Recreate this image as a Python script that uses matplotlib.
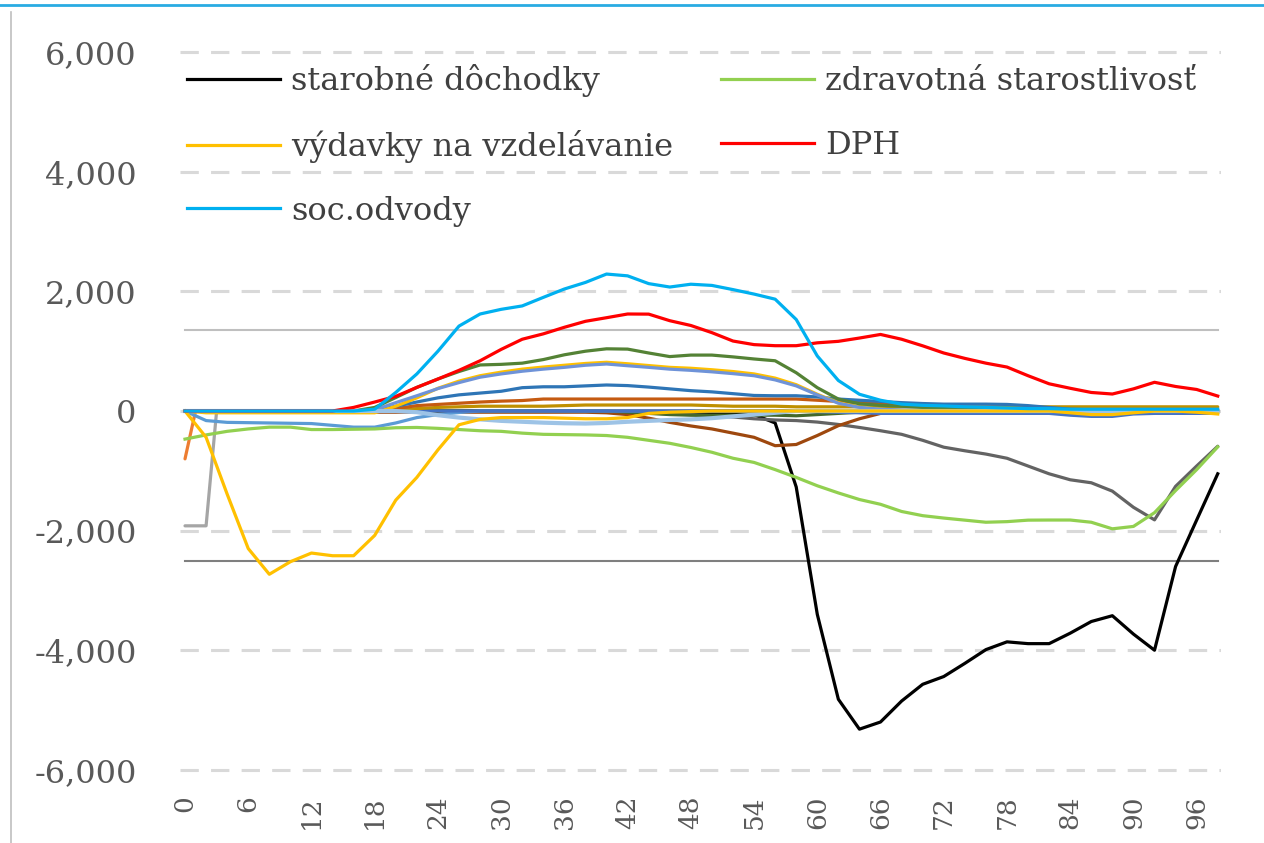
import matplotlib
matplotlib.use("Agg")
import matplotlib.pyplot as plt
from matplotlib.lines import Line2D
from matplotlib.ticker import FuncFormatter

# ---------------- data ----------------
ages = list(range(0, 99, 2))
x_ticks = list(range(0, 97, 6))
y_ticks = [-6000, -4000, -2000, 0, 2000, 4000, 6000]
ref_lines = [1350, -2500]

staro = [0, 0, 0, 0, 0, 0, 0, 0, 0, 0,
         0, 0, 0, 0, 0, 0, 0, 0, 0, 0,
         0, 0, 0, -10, -20, -30, -40, -60, -200, -1270,
         -3400, -4820, -5320, -5200, -4850, -4570, -4440, -4220, -3990, -3860,
         -3890, -3890, -3715, -3520, -3423, -3730, -4000, -2600, -1823, -1050]
zdrav = [-470, -400, -340, -300, -270, -270, -310, -310, -305, -300,
         -280, -275, -290, -310, -330, -340, -370, -390, -395, -400,
         -410, -440, -490, -540, -610, -690, -790, -860, -980, -1110,
         -1250, -1370, -1480, -1560, -1680, -1750, -1790, -1825, -1860, -1850,
         -1825, -1823, -1823, -1860, -1970, -1930, -1700, -1330, -980, -600]
vzdel = [0, -440, -1390, -2300, -2730, -2520, -2375, -2420, -2420, -2080,
         -1490, -1110, -650, -230, -140, -110, -110, -110, -120, -130,
         -130, -110, -40, -20, -10, 0, 0, 0, 0, 0,
         0, 0, 0, 0, 0, 0, 0, 0, 0, 0,
         0, 0, -30, -60, -60, -30, 0, 0, -20, -50]
dph = [0, 0, 0, 0, 0, 0, 0, 0, 60, 150,
       245, 395, 535, 680, 840, 1030, 1200, 1290, 1400, 1500,
       1560, 1622, 1620, 1510, 1430, 1310, 1170, 1110, 1092, 1092,
       1140, 1165, 1220, 1280, 1200, 1090, 970, 880, 800, 735,
       590, 455, 380, 310, 284, 370, 480, 410, 360, 250]
soc = [0, 0, 0, 0, 0, 0, 0, 0, 0, 30,
       310, 620, 1000, 1420, 1622, 1700, 1757, 1900, 2040, 2150,
       2290, 2260, 2130, 2073, 2120, 2100, 2030, 1955, 1870, 1530,
       920, 510, 280, 180, 115, 95, 85, 70, 60, 50,
       40, 40, 30, 30, 30, 30, 30, 30, 30, 30]

# unlabeled components
dkgreen = [0, 0, 0, 0, 0, 0, 0, 0, 0, 60,
           225, 395, 535, 660, 770, 780, 800, 860, 940, 1000,
           1040, 1035, 970, 910, 935, 935, 905, 870, 840, 640,
           390, 200, 120, 95, 80, 60, 40, 30, 20, 20,
           10, 10, 10, 10, 10, 10, 10, 10, 10, 10]
periw = [0, 0, 0, 0, 0, 0, 0, 0, 0, 20,
         140, 255, 375, 475, 565, 620, 665, 700, 730, 765,
         786, 757, 730, 700, 680, 655, 625, 590, 520, 420,
         270, 130, 60, 30, 15, 10, 10, 0, 0, 0,
         0, 0, 0, 0, 0, 0, 0, 0, 0, 0]
gold2 = [0, -30, -30, -30, -30, -30, -30, -30, -30, -30,
         80, 220, 380, 500, 590, 650, 700, 735, 765, 795,
         815, 790, 760, 730, 715, 690, 660, 620, 550, 440,
         280, 140, 70, 30, 10, 0, 0, 0, 0, 0,
         0, 0, 0, 0, 0, 0, 0, 0, 0, 0]
mblue = [0, 0, 0, 0, 0, 0, 0, 0, 0, 0,
         80, 150, 220, 270, 300, 330, 390, 405, 405, 420,
         435, 425, 400, 370, 340, 320, 290, 260, 255, 255,
         235, 200, 180, 160, 140, 125, 115, 115, 115, 110,
         90, 60, 30, 20, 10, 0, 0, 0, 0, 0]
obrown = [0, 0, 0, 0, 0, 0, 0, 0, 0, 0,
          40, 90, 110, 130, 150, 165, 175, 200, 200, 200,
          200, 200, 200, 200, 200, 200, 200, 200, 200, 200,
          180, 160, 140, 120, 100, 70, 40, 20, 0, 0,
          0, 0, 0, 0, 0, 0, 0, 0, 0, 0]
dgold = [0, 0, 0, 0, 0, 0, 0, 0, 0, 0,
         20, 40, 60, 70, 80, 80, 80, 80, 90, 100,
         100, 100, 100, 100, 100, 90, 80, 80, 80, 70,
         70, 70, 70, 70, 70, 70, 70, 70, 70, 70,
         70, 70, 70, 70, 70, 70, 70, 70, 70, 70]
brown = [0, 0, 0, 0, 0, 0, 0, 0, -20, -20,
         -20, -20, -20, -20, -20, -20, -20, -20, -20, -20,
         -30, -60, -120, -190, -250, -300, -370, -440, -580, -560,
         -410, -245, -130, -40, 0, 0, 0, 0, 0, 0,
         0, 0, 0, 0, 0, 0, 0, 0, 0, 0]
dgray = [0, 0, 0, 0, 0, 0, 0, 0, 0, 0,
         0, 0, 0, 0, 0, 0, 0, 0, 0, 0,
         -10, -20, -30, -50, -60, -80, -100, -130, -150, -160,
         -185, -225, -275, -330, -390, -490, -605, -665, -720, -790,
         -920, -1050, -1150, -1200, -1340, -1610, -1820, -1260, -920, -590]
lblue = [0, 0, 0, 0, 0, 0, 0, 0, 0, 0,
         0, -20, -70, -110, -140, -165, -180, -195, -205, -210,
         -200, -180, -165, -150, -140, -120, -90, -60, -30, 0,
         0, 0, 0, 0, 0, 0, 0, 0, 0, 0,
         0, 0, 0, 0, 0, 0, 0, 0, 0, 0]
blue = [0, -160, -190, -195, -200, -205, -210, -240, -270, -270,
        -200, -110, -60, -25, 0, 0, 0, 0, 0, 0,
        0, 0, 0, 0, 0, 0, 0, 0, 0, 0,
        0, 0, 0, 0, 0, 0, 0, 0, 0, 0,
        0, 0, 0, 0, 0, 0, 0, 0, 0, 0]
blue2 = [0, 0, 0, 0, 0, 0, 0, 0, 0, 0,
         0, 0, 0, 0, 0, 0, 0, 0, 0, 0,
         0, 0, 0, 0, 0, 0, 0, 0, 0, 0,
         -10, -20, -30, -40, -40, -40, -40, -40, -40, -40,
         -40, -40, -70, -90, -90, -50, -40, -40, -40, -40]
dkgreen2 = [0, 0, 0, 0, 0, 0, 0, 0, 0, 0,
            0, 0, 0, 0, 0, 0, 0, 0, 0, 0,
            0, -20, -40, -60, -70, -70, -70, -70, -70, -80,
            -60, -40, -20, 0, 0, 0, 0, 0, 0, 0,
            0, 0, 0, 0, 0, 0, 0, 0, 0, 0]
orange_ages = [0, 1, 98]
orange_vals = [-800, 0, 0]
gray_ages = [0, 2, 3, 98]
gray_vals = [-1920, -1920, 0, 0]

# ---------------- figure ----------------
plt.rcParams['font.family'] = ["DejaVu Serif"]

fig = plt.figure(figsize=(12.64, 8.43), dpi=100)
ax = fig.add_axes([0.1422, 0.0797, 0.8237, 0.8655])

LW = 2.3
h_staro, = ax.plot(ages, staro, color="black", lw=LW, zorder=3, label="starobné dôchodky")
minor = [
    (gray_ages, gray_vals, "#A5A5A5"),
    (orange_ages, orange_vals, "#ED7D31"),
    (ages, dgray, "#636363"),
    (ages, brown, "#9E480E"),
    (ages, dkgreen2, "#43682B"),
    (ages, blue, "#5B9BD5"),
    (ages, blue2, "#4472C4"),
    (ages, dgold, "#BF9000"),
    (ages, obrown, "#C55A11"),
    (ages, mblue, "#2E75B6"),
    (ages, gold2, "#FFC000"),
    (ages, periw, "#6F93D8"),
    (ages, dkgreen, "#548235"),
]
for xs, ys, c in minor:
    ax.plot(xs, ys, color=c, lw=LW, solid_capstyle='round', zorder=3.2)
ax.plot(ages, lblue, color="#9DC3E6", lw=3.0, zorder=4)

h_zdrav, = ax.plot(ages, zdrav, color="#92D050", lw=LW, zorder=5, label="zdravotná starostlivosť")
h_vzdel, = ax.plot(ages, vzdel, color="#FFC000", lw=LW, zorder=5, label="výdavky na vzdelávanie")
h_dph, = ax.plot(ages, dph, color="#FF0000", lw=LW, zorder=5, label="DPH")
h_soc, = ax.plot(ages, soc, color="#00B0F0", lw=LW, zorder=5, label="soc.odvody")

# reference lines
ax.plot([0, 98], [ref_lines[0]] * 2, color="#BFBFBF", lw=1.5, zorder=2)
ax.plot([0, 98], [ref_lines[1]] * 2, color="#7F7F7F", lw=1.5, zorder=2)

ax.set_xlim(-0.5, 98.3)
ax.set_ylim(-6100, 6100)
ax.set_yticks(y_ticks)
ax.set_xticks(x_ticks)
ax.yaxis.set_major_formatter(FuncFormatter(lambda v, p: f"{int(v):,}"))
ax.set_xticklabels([str(t) for t in x_ticks], rotation=90, va='top', ha='center')
ax.grid(axis='y', color="#D9D9D9", lw=2.2, linestyle=(0, (6, 4)), zorder=1)
ax.set_axisbelow(True)
for s in ax.spines.values():
    s.set_visible(False)
ax.tick_params(axis='y', length=0, pad=31, labelsize=23, labelcolor="#595959")
ax.tick_params(axis='x', length=0, pad=14, labelsize=19, labelcolor="#595959")

handles = [h_staro, h_vzdel, h_soc, h_zdrav, h_dph]
leg = ax.legend(handles=handles, labels=[h.get_label() for h in handles],
                ncol=2, loc='upper left', bbox_to_anchor=(0.007, 0.975),
                frameon=False, fontsize=23, handlelength=2.9, handletextpad=0.35,
                labelspacing=1.02, columnspacing=1.5, borderpad=0, borderaxespad=0)
for t in leg.get_texts():
    t.set_color("#404040")

# page decorations (top rule and left border)
fig.add_artist(Line2D([0, 1], [1 - 5 / 843, 1 - 5 / 843], transform=fig.transFigure,
                      color="#29ABE2", lw=2.0))
fig.add_artist(Line2D([11 / 1264, 11 / 1264], [0, 1 - 12 / 843], transform=fig.transFigure,
                      color="#BFBFBF", lw=1.2))

fig.savefig("out.png", dpi=100)
